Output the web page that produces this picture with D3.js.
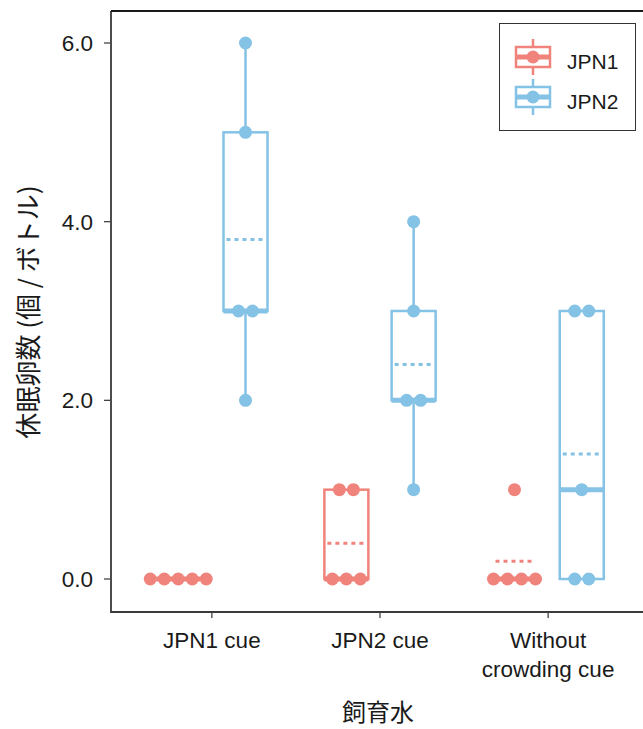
<!DOCTYPE html>
<html>
<head>
<meta charset="utf-8">
<script src="https://cdn.jsdelivr.net/npm/d3@7"></script>
<style>
  body { margin: 0; background: #fff; }
  text { font-family: "Liberation Sans", Arial, sans-serif; fill: #1a1a1a; }
  .jp { font-family: "Noto Sans CJK JP", sans-serif; }
</style>
</head>
<body>
<svg id="chart" width="643" height="729"></svg>
<script>
// data (dormant eggs per bottle, 5 bottles each)
var conditions = ["JPN1 cue", "JPN2 cue", "Without crowding cue"];
var conditionLabels = [["JPN1 cue"], ["JPN2 cue"], ["Without", "crowding cue"]];
var strains = ["JPN1", "JPN2"];
var jpn1Counts = [[0, 0, 0, 0, 0], [1, 1, 0, 0, 0], [1, 0, 0, 0, 0]];
var jpn2Counts = [[6, 5, 3, 3, 2], [4, 3, 2, 2, 1], [3, 3, 1, 0, 0]];
var yTicks = [0, 2, 4, 6];

var colors = {JPN1: "#f0837b", JPN2: "#84c2e6"};

var svg = d3.select("#chart");

var panel = {left: 111, top: 11, bottom: 612, right: 649};

var x = d3.scalePoint()
    .domain(conditions)
    .range([panel.left, panel.right])
    .padding(0.6);
var step = x.step();

var y = d3.scaleLinear()
    .domain([0, 6])
    .range([579, 43]);

var dodge = d3.scalePoint()
    .domain(strains)
    .range([-0.2 * step, 0.2 * step]);

var boxW = 44, dotR = 6.5, dotGap = 14;

// build groups
var groups = [];
conditions.forEach(function(c, i) {
  [jpn1Counts[i], jpn2Counts[i]].forEach(function(vals, j) {
    groups.push({cond: c, strain: strains[j], values: vals});
  });
});

groups.forEach(function(g) {
  var s = g.values.slice().sort(d3.ascending);
  g.q1 = d3.quantile(s, 0.25);
  g.med = d3.quantile(s, 0.5);
  g.q3 = d3.quantile(s, 0.75);
  g.mean = d3.mean(s);
  var iqr = g.q3 - g.q1;
  var inside = s.filter(function(v) { return v >= g.q1 - 1.5 * iqr && v <= g.q3 + 1.5 * iqr; });
  g.lo = d3.min(inside);
  g.hi = d3.max(inside);
  g.cx = x(g.cond) + dodge(g.strain);
  // simple beeswarm: spread equal values sideways
  var byVal = d3.group(g.values, function(v) { return v; });
  g.pts = [];
  byVal.forEach(function(arr, v) {
    arr.forEach(function(_, k) {
      g.pts.push({v: v, dx: (k - (arr.length - 1) / 2) * dotGap});
    });
  });
});

// axes frame
svg.append("path")
    .attr("d", "M" + panel.left + "," + panel.top + "V" + panel.bottom + "H" + 643)
    .attr("fill", "none").attr("stroke", "#3a3a3a").attr("stroke-width", 1.8);
svg.append("line")
    .attr("x1", panel.left).attr("x2", 643)
    .attr("y1", panel.top).attr("y2", panel.top)
    .attr("stroke", "#1a1a1a").attr("stroke-width", 1.8);

// y ticks
var yt = svg.append("g");
yTicks.forEach(function(t) {
  yt.append("line")
      .attr("x1", panel.left - 7).attr("x2", panel.left)
      .attr("y1", y(t)).attr("y2", y(t))
      .attr("stroke", "#444").attr("stroke-width", 1.3);
  yt.append("text")
      .attr("x", panel.left - 18).attr("y", y(t))
      .attr("dy", "0.36em")
      .attr("text-anchor", "end")
      .attr("font-size", 22.5)
      .text(d3.format(".1f")(t));
});

// x ticks
var xt = svg.append("g");
conditions.forEach(function(c, i) {
  xt.append("line")
      .attr("x1", x(c)).attr("x2", x(c))
      .attr("y1", panel.bottom).attr("y2", panel.bottom + 6)
      .attr("stroke", "#444").attr("stroke-width", 1.3);
  conditionLabels[i].forEach(function(line, k) {
    xt.append("text")
        .attr("x", x(c)).attr("y", 648 + k * 29)
        .attr("text-anchor", "middle")
        .attr("font-size", 22.5)
        .text(line);
  });
});

// axis titles
svg.append("text")
    .attr("class", "jp")
    .attr("transform", "translate(38,312) rotate(-90)")
    .attr("text-anchor", "middle")
    .attr("font-size", 26)
    .text("休眠卵数 (個 / ボトル)");
svg.append("text")
    .attr("class", "jp")
    .attr("x", 378).attr("y", 721)
    .attr("text-anchor", "middle")
    .attr("font-size", 24)
    .text("飼育水");

// boxes
var gBox = svg.append("g").selectAll("g")
    .data(groups)
    .enter().append("g");

gBox.append("line")
    .attr("x1", function(d) { return d.cx; })
    .attr("x2", function(d) { return d.cx; })
    .attr("y1", function(d) { return y(d.hi); })
    .attr("y2", function(d) { return y(d.lo); })
    .attr("stroke", function(d) { return colors[d.strain]; })
    .attr("stroke-width", 2.5);

gBox.append("rect")
    .attr("x", function(d) { return d.cx - boxW / 2; })
    .attr("width", boxW)
    .attr("y", function(d) { return y(d.q3); })
    .attr("height", function(d) { return y(d.q1) - y(d.q3); })
    .attr("fill", "#fff")
    .attr("stroke", function(d) { return colors[d.strain]; })
    .attr("stroke-width", 2.5);

gBox.append("line")
    .attr("x1", function(d) { return d.cx - boxW / 2; })
    .attr("x2", function(d) { return d.cx + boxW / 2; })
    .attr("y1", function(d) { return y(d.med); })
    .attr("y2", function(d) { return y(d.med); })
    .attr("stroke", function(d) { return colors[d.strain]; })
    .attr("stroke-width", 5);

gBox.append("line")
    .attr("x1", function(d) { return d.cx - 19; })
    .attr("x2", function(d) { return d.cx + 19; })
    .attr("y1", function(d) { return y(d.mean); })
    .attr("y2", function(d) { return y(d.mean); })
    .attr("stroke", function(d) { return colors[d.strain]; })
    .attr("stroke-width", 3)
    .attr("stroke-dasharray", "4,4");

gBox.each(function(d) {
  d3.select(this).selectAll("circle")
      .data(d.pts)
      .enter().append("circle")
      .attr("cx", function(p) { return d.cx + p.dx; })
      .attr("cy", function(p) { return y(p.v); })
      .attr("r", dotR)
      .attr("fill", colors[d.strain]);
});

// legend
var leg = svg.append("g");
leg.append("rect")
    .attr("x", 499.5).attr("y", 23.5)
    .attr("width", 136).attr("height", 107)
    .attr("fill", "#fff").attr("stroke", "#333").attr("stroke-width", 1);
strains.forEach(function(s, i) {
  var cy = 57 + i * 40, cx = 533;
  var k = leg.append("g");
  k.append("line")
      .attr("x1", cx).attr("x2", cx).attr("y1", cy - 18).attr("y2", cy + 18)
      .attr("stroke", colors[s]).attr("stroke-width", 2.5);
  k.append("rect")
      .attr("x", cx - 17).attr("y", cy - 10).attr("width", 34).attr("height", 20)
      .attr("fill", "#fff").attr("stroke", colors[s]).attr("stroke-width", 2.5);
  k.append("line")
      .attr("x1", cx - 17).attr("x2", cx + 17).attr("y1", cy).attr("y2", cy)
      .attr("stroke", colors[s]).attr("stroke-width", 5);
  k.append("circle")
      .attr("cx", cx).attr("cy", cy).attr("r", dotR)
      .attr("fill", colors[s]);
  leg.append("text")
      .attr("x", 567).attr("y", cy + 4)
      .attr("dy", "0.36em")
      .attr("font-size", 21)
      .text(s);
});
</script>
</body>
</html>
